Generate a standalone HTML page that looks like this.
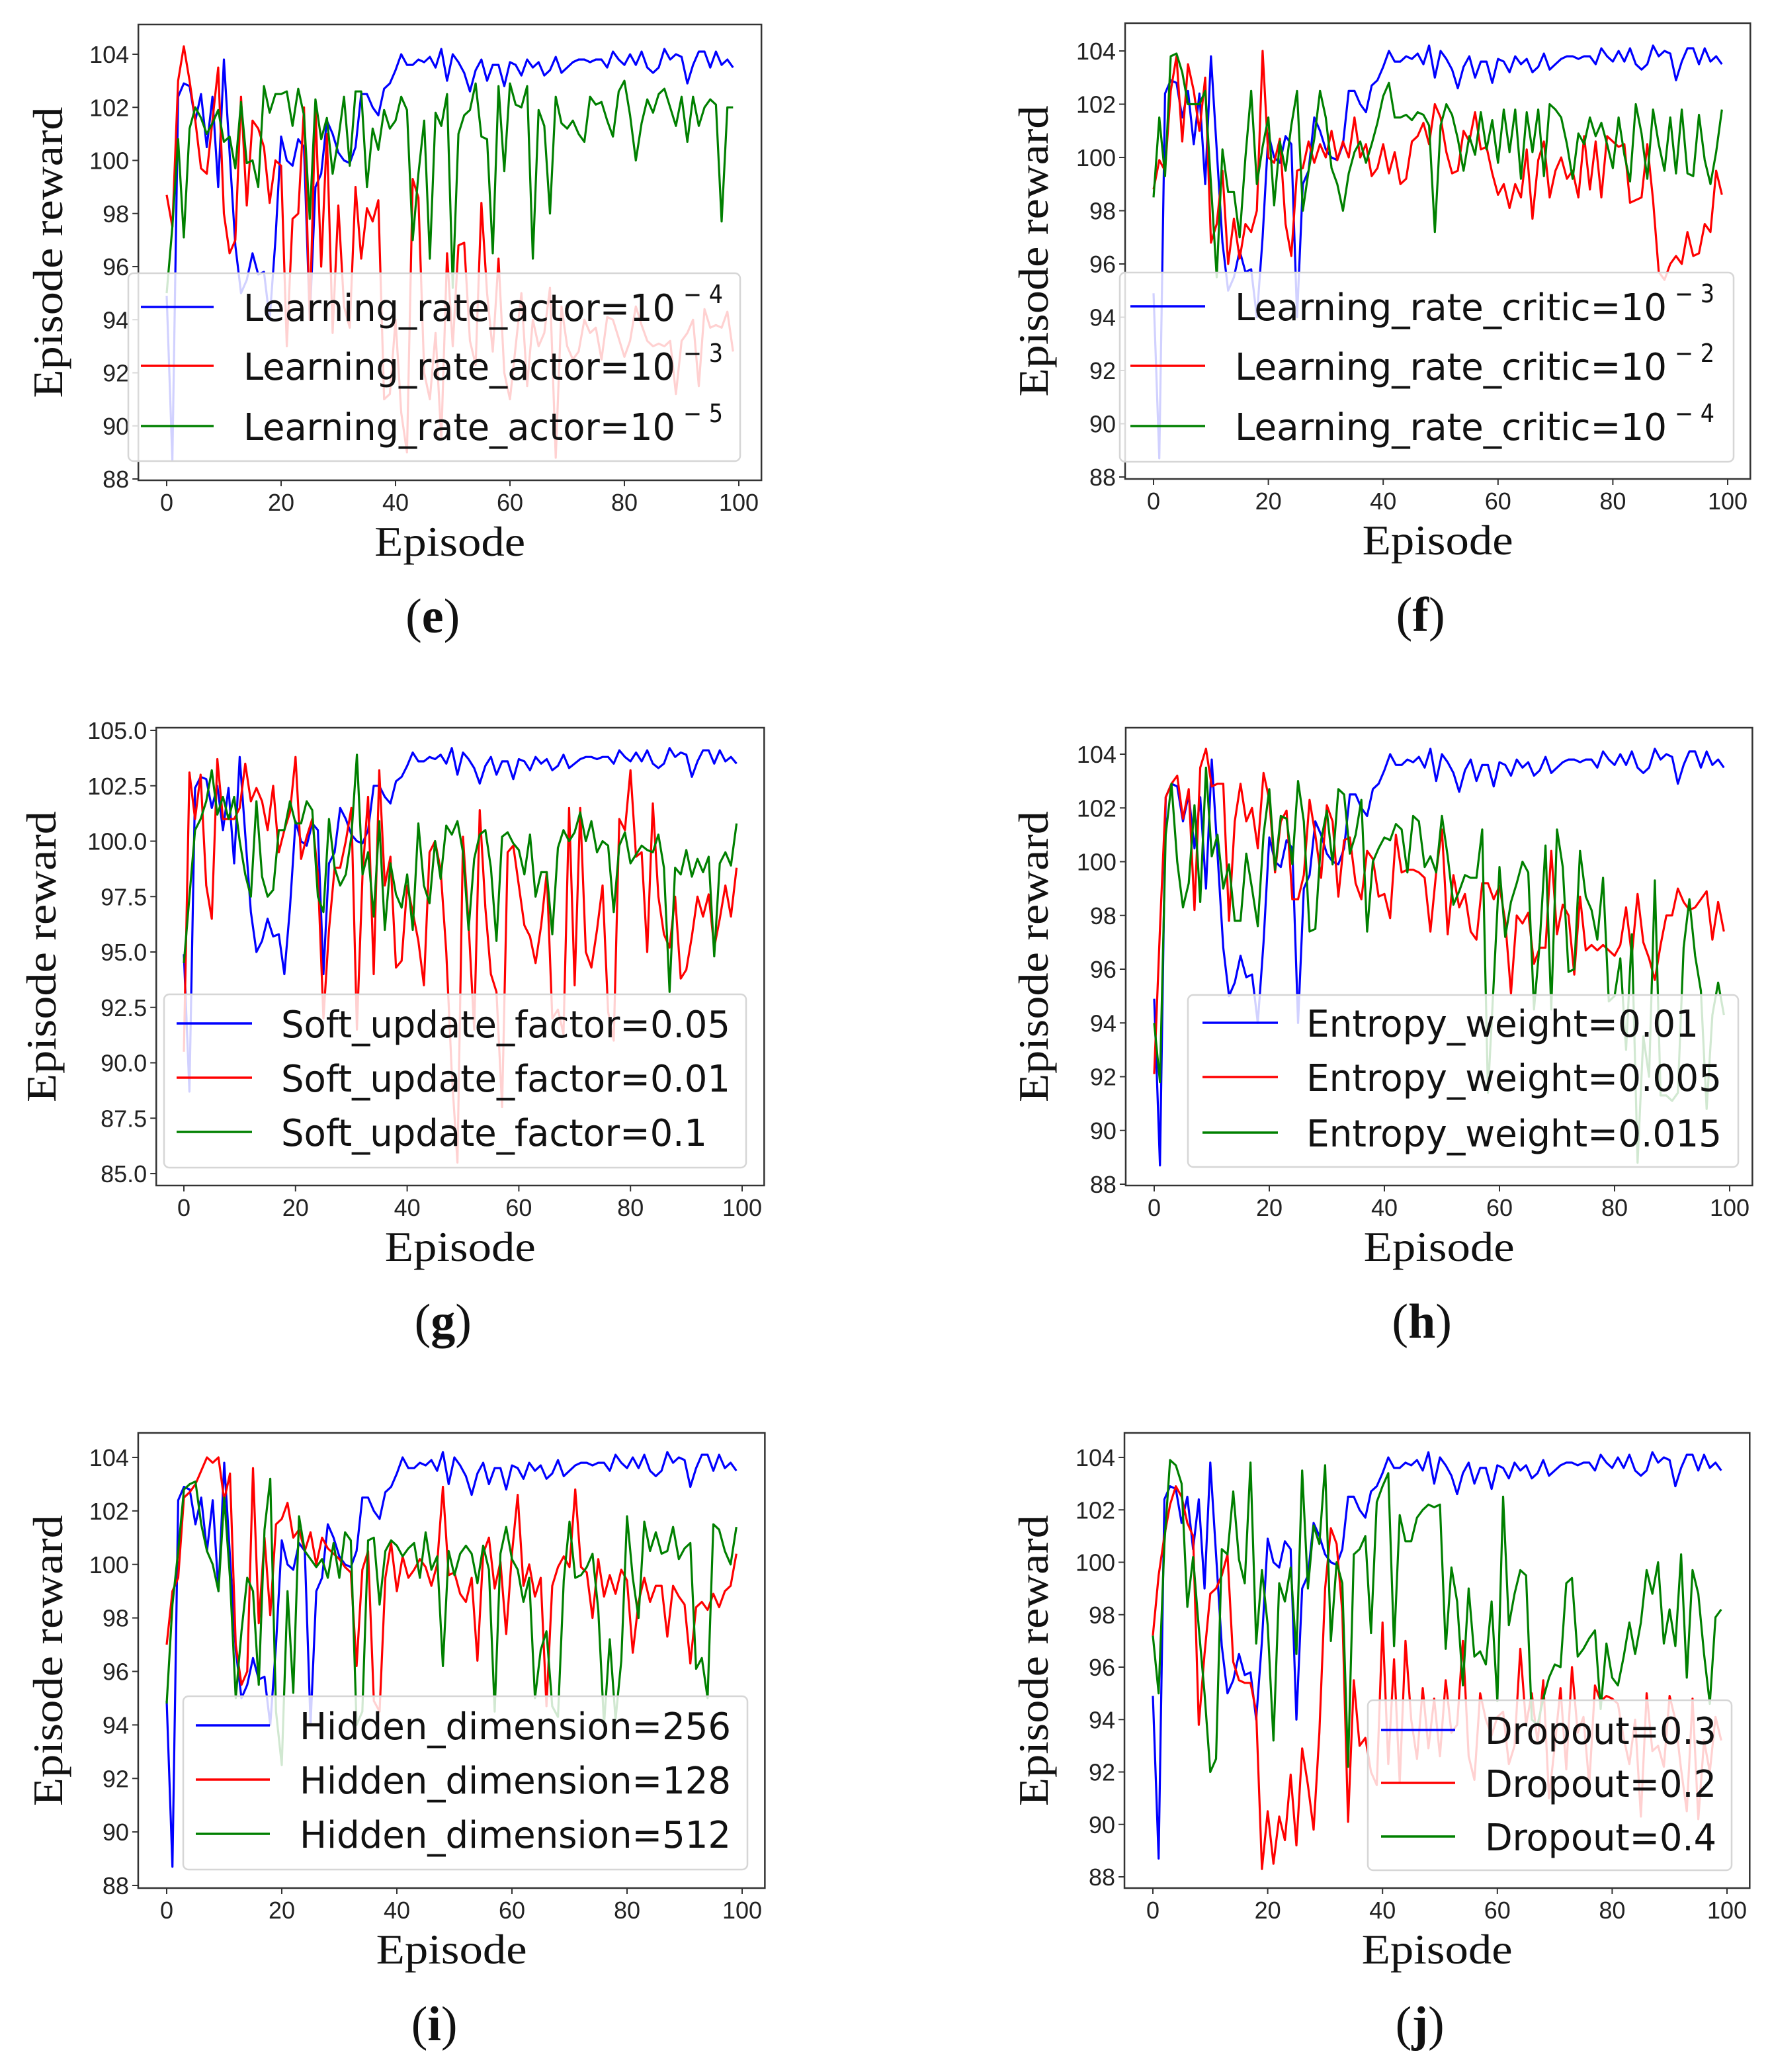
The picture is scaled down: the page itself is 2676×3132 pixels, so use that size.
<!DOCTYPE html>
<html><head><meta charset="utf-8">
<style>
html,body{margin:0;padding:0;background:#fff;}
svg{display:block;}
.tick{font-family:"Liberation Sans",sans-serif;font-size:36px;fill:#222;}
.ttl{font-family:"Liberation Serif",serif;font-size:64px;fill:#111;}
.leg{font-family:"DejaVu Sans Condensed","DejaVu Sans",sans-serif;font-size:56px;fill:#111;}
.sup{font-family:"DejaVu Sans",sans-serif;font-size:38px;fill:#111;}
.cap{font-family:"Liberation Serif",serif;font-size:74px;fill:#111;}
</style></head>
<body>
<svg id="fig" width="2676" height="3132" viewBox="0 0 2676 3132" xmlns="http://www.w3.org/2000/svg"></svg>
<script>
// ---- data (shared baseline series, blue) ----
const episodes = Array.from({length:100},(_,i)=>i);
const baseline = [94.9,88.7,102.4,102.9,102.8,101.5,102.5,100.5,102.4,99.0,103.8,100.3,96.8,95.0,95.5,96.5,95.7,95.8,94.0,97.0,100.9,100.0,99.8,100.8,100.5,94.0,99.0,99.5,101.5,101.0,100.3,100.0,99.9,100.5,102.5,102.5,102.0,101.7,102.7,102.9,103.4,104.0,103.6,103.6,103.8,103.7,103.9,103.5,104.2,103.0,104.0,103.7,103.3,102.6,103.4,103.8,103.0,103.6,103.6,102.8,103.7,103.6,103.2,103.8,103.5,103.7,103.2,103.4,103.9,103.3,103.5,103.7,103.8,103.8,103.7,103.8,103.8,103.5,104.1,103.8,103.6,104.0,103.6,104.1,103.5,103.3,103.5,104.2,103.8,104.0,103.9,102.9,103.6,104.1,104.1,103.5,104.1,103.6,103.8,103.5];
// panel e
const eRed = [98.7,97.5,103.0,104.3,103.0,101.5,99.7,99.5,101.5,103.5,98.0,96.5,97.0,102.4,98.3,101.5,101.2,100.5,98.4,100.0,99.8,93.0,97.8,98.0,102.0,94.0,102.0,96.0,101.0,93.5,98.3,94.5,93.7,99.0,96.3,98.2,97.7,98.5,91.0,91.2,94.0,90.5,89.0,99.3,98.6,92.0,91.0,93.5,89.5,96.5,93.0,96.8,96.9,93.2,92.3,98.4,95.0,92.8,96.3,92.0,91.0,93.0,95.0,91.5,94.0,93.0,93.5,95.2,88.8,94.5,93.0,92.5,92.8,94.0,93.5,93.7,92.5,94.1,94.0,93.3,92.6,93.2,94.5,93.8,93.2,93.0,93.1,93.0,93.2,91.2,93.2,93.5,94.0,91.5,94.4,93.7,93.8,93.7,94.3,92.8];
const eGreen = [95.0,97.5,100.8,97.1,101.2,102.0,101.6,101.0,101.4,101.9,100.7,100.9,99.7,102.2,99.9,100.0,99.0,102.8,101.8,102.5,102.5,102.6,101.3,102.7,101.7,97.8,102.3,100.8,101.6,99.5,100.8,102.4,99.8,102.6,102.6,99.0,101.2,100.4,101.9,101.2,101.5,102.4,101.9,97.0,99.5,101.5,96.3,101.8,101.3,102.5,95.2,101.0,101.7,101.9,102.9,100.9,100.8,96.5,102.8,99.6,102.9,102.1,102.0,102.8,96.3,101.9,101.3,98.0,102.4,101.4,101.2,101.5,101.0,100.7,102.4,102.1,102.2,101.5,100.9,102.6,103.0,101.7,100.0,101.4,102.3,101.8,102.5,102.7,102.0,101.3,102.4,100.7,102.4,101.3,102.0,102.3,102.1,97.7,102.0,102.0];
// panel f
const fRed = [98.8,99.9,99.5,102.5,103.8,100.6,103.5,102.5,101.0,103.0,96.8,97.5,99.5,96.0,97.7,96.2,97.5,97.2,98.0,104.0,100.0,99.8,100.7,97.5,96.3,99.5,99.6,100.6,99.8,100.5,100.0,101.0,99.9,100.6,100.0,101.5,100.0,100.5,99.3,99.6,100.5,99.4,100.2,99.0,99.2,100.6,100.8,101.3,100.5,102.0,101.5,100.2,99.4,99.5,101.0,100.6,101.7,100.3,100.4,99.4,98.6,99.0,98.1,99.0,98.5,100.3,97.7,99.9,100.6,98.5,99.5,100.0,99.2,99.5,98.5,100.8,98.8,100.6,98.5,100.8,100.6,100.4,100.5,98.3,98.4,98.5,100.5,98.4,95.7,95.4,96.0,96.3,96.0,97.2,96.3,96.4,97.5,97.2,99.5,98.6];
const fGreen = [98.5,101.5,99.3,103.8,103.9,103.2,102.0,102.0,102.0,102.5,99.0,95.5,100.3,98.7,98.7,97.0,100.0,102.5,99.0,100.4,101.5,98.2,100.6,99.5,101.2,102.5,98.0,99.5,100.7,102.5,101.5,99.6,99.0,98.0,99.4,100.2,100.6,99.8,100.5,101.3,102.3,102.8,101.5,101.5,101.6,101.4,101.7,101.6,101.2,97.2,101.2,102.0,101.6,100.7,99.5,100.8,100.1,101.7,100.3,101.4,99.8,101.8,100.2,101.8,99.2,101.7,100.2,101.8,99.3,102.0,101.8,101.5,100.5,99.2,100.9,100.5,101.5,100.8,101.3,100.5,99.6,101.5,100.1,99.1,102.0,100.9,99.2,101.8,100.5,99.5,101.5,99.4,101.8,99.4,99.3,101.6,99.9,99.0,100.2,101.8];
// panel g
const gRed = [90.5,103.1,101.0,103.0,98.0,96.5,103.7,101.0,101.0,101.0,101.5,103.5,101.8,102.4,101.8,100.5,102.5,99.5,100.5,101.3,103.8,99.2,100.2,101.0,98.5,92.0,96.0,98.8,98.8,100.0,101.5,91.5,98.5,102.0,94.0,103.2,98.0,99.3,94.3,94.6,98.0,96.8,95.5,93.5,99.5,100.0,98.7,95.0,89.5,85.5,100.2,96.3,91.5,101.4,97.0,94.0,93.2,88.0,99.5,99.8,98.0,96.2,95.7,94.5,96.2,98.6,92.0,92.4,91.3,101.5,93.5,101.5,95.0,94.3,96.0,98.0,92.3,91.0,101.0,100.5,103.2,99.3,99.5,95.0,101.7,97.5,95.8,95.2,97.5,93.8,94.2,95.7,97.5,96.6,97.6,95.2,96.5,98.0,96.6,98.8];
const gGreen = [94.5,97.5,100.5,101.0,101.8,103.2,101.2,102.0,101.0,102.0,100.0,98.5,97.5,101.8,98.4,97.5,97.8,100.5,100.5,101.8,100.8,100.8,101.8,101.4,97.5,96.8,101.0,98.8,98.0,98.5,100.2,103.9,98.5,99.5,96.6,100.9,96.0,99.0,97.6,97.0,98.5,96.0,100.8,98.0,97.2,100.0,98.3,100.7,100.3,100.9,99.5,96.0,99.2,100.3,100.5,98.8,95.5,100.2,100.4,99.9,99.6,98.5,100.3,97.5,98.6,98.6,95.8,99.7,100.5,100.0,100.4,101.3,100.0,100.9,99.5,100.0,99.8,96.8,99.8,100.4,99.0,99.4,99.8,99.6,99.5,100.3,98.8,93.2,98.8,98.5,99.6,98.4,99.2,98.6,99.3,94.8,99.0,99.5,98.9,100.8];
// panel h
const hRed = [92.1,97.5,102.4,102.9,103.2,101.6,102.7,98.2,103.5,104.2,102.8,102.9,102.9,97.8,101.5,102.9,101.5,102.0,100.5,103.3,102.3,99.6,101.5,101.9,98.6,98.6,99.5,102.3,101.0,99.4,102.1,101.5,98.7,100.8,100.9,99.2,98.6,100.4,100.1,98.7,98.8,97.9,101.0,99.6,99.7,99.7,99.6,99.4,97.4,99.6,101.2,97.3,99.5,98.3,98.8,97.4,97.1,99.2,99.2,98.6,99.1,97.8,95.1,98.0,97.7,98.1,96.2,96.8,96.8,100.4,97.3,98.4,98.0,95.8,98.7,96.7,96.9,96.7,96.9,96.7,96.5,96.9,98.3,96.5,98.8,97.0,96.4,95.6,96.9,98.0,98.0,99.0,98.5,98.2,98.3,98.6,98.9,97.1,98.5,97.4];
const hGreen = [94.0,91.8,101.0,102.9,100.0,98.3,99.2,102.1,98.5,103.5,100.2,101.0,99.0,99.9,97.8,97.8,100.3,99.0,97.6,101.0,102.7,99.7,101.7,101.6,99.9,103.0,101.5,97.4,97.5,100.8,101.9,99.9,102.7,102.5,100.3,101.0,102.3,97.4,100.0,100.5,100.9,100.8,101.4,101.2,99.6,101.7,101.5,99.8,100.2,99.6,101.7,100.2,98.4,98.9,99.5,99.4,99.4,101.2,91.4,95.5,99.8,97.2,98.5,99.2,100.0,99.6,94.5,97.0,100.6,94.5,101.2,99.8,95.9,96.0,100.4,98.7,98.2,97.1,99.4,94.8,95.0,96.4,93.0,97.3,88.8,93.5,92.0,99.3,91.3,91.3,91.1,91.4,96.8,98.6,96.5,95.2,90.8,94.3,95.5,94.3];
// panel i
const iRed = [97.0,99.0,99.5,102.5,102.7,103.0,103.5,104.0,103.8,104.0,102.4,103.4,97.0,95.5,96.0,103.6,97.8,101.0,98.1,101.5,101.7,102.3,101.0,101.3,100.5,101.2,100.0,101.0,100.6,100.4,100.2,99.9,99.7,96.2,99.8,100.5,94.9,94.5,99.5,100.8,99.0,100.3,99.5,99.8,100.2,99.9,99.2,100.0,102.9,99.6,99.7,98.9,98.6,99.5,96.4,100.4,101.0,99.1,100.1,97.4,100.4,102.6,99.2,100.0,98.8,99.5,94.7,99.2,99.9,100.3,99.9,102.8,99.9,99.7,98.0,100.2,98.8,99.6,98.9,99.8,99.4,96.7,98.6,99.5,98.6,99.2,99.2,97.3,99.2,98.8,98.5,96.3,98.4,98.6,98.3,98.9,98.4,99.0,99.2,100.4];
const iGreen = [94.8,98.5,100.5,102.8,103.0,103.1,101.5,100.5,100.0,99.0,102.5,99.5,95.0,97.5,99.5,99.0,95.5,101.3,103.2,94.5,92.5,99.0,95.2,101.8,100.5,100.2,99.9,100.2,99.5,100.8,99.5,101.2,100.9,94.0,94.5,100.9,101.0,98.5,100.5,100.9,100.7,100.3,100.6,100.8,99.5,101.2,99.8,100.3,96.2,100.5,99.6,100.4,100.7,100.4,99.3,100.7,99.8,94.5,100.4,101.4,100.2,99.8,98.6,99.5,95.0,96.8,97.5,94.7,94.3,99.4,101.6,99.5,99.6,99.9,100.4,98.3,94.0,97.2,94.2,96.4,101.8,99.5,98.0,101.6,100.5,101.2,100.4,100.5,101.4,100.2,100.6,100.8,96.1,96.5,95.0,101.5,101.3,100.5,100.0,101.4];
// panel j
const jRed = [97.2,99.5,101.0,102.2,102.9,102.5,101.5,101.0,93.8,96.5,98.8,99.0,99.5,100.3,96.2,95.5,95.4,95.4,94.3,88.3,90.5,88.5,90.3,89.4,91.9,89.2,92.9,91.5,89.8,93.5,99.0,101.3,100.7,98.1,90.1,95.5,93.0,93.3,92.0,91.5,97.7,92.3,96.3,91.6,97.0,94.0,92.5,95.2,92.9,94.8,92.6,95.5,93.5,93.8,97.0,92.6,91.7,95.0,94.0,93.4,94.1,94.3,92.3,93.0,96.7,93.8,95.0,93.1,95.5,91.0,93.0,95.2,92.1,96.0,93.5,94.1,91.5,95.3,94.7,94.9,94.8,94.6,93.3,92.3,94.0,90.3,95.0,92.8,93.0,92.2,94.9,94.0,92.1,90.5,94.8,90.2,93.2,92.0,94.1,93.2];
const jGreen = [97.2,95.0,100.7,103.9,103.7,103.0,98.3,100.2,97.5,95.0,92.0,92.5,100.5,100.3,102.7,100.1,99.2,103.8,96.9,99.7,97.6,93.2,99.2,98.5,99.8,96.5,103.5,99.0,101.4,100.7,103.7,97.0,100.0,99.2,92.2,100.3,100.5,101.0,97.3,102.3,102.9,103.4,96.8,101.8,100.8,100.8,101.7,102.0,102.2,102.1,102.2,96.7,99.8,98.5,95.3,99.0,96.4,96.6,96.1,98.5,94.7,102.5,97.6,98.8,99.7,99.5,94.0,93.8,94.8,95.6,96.1,96.0,99.2,99.4,96.4,96.7,97.1,97.4,94.4,96.9,95.6,95.3,96.4,97.7,96.5,97.7,99.7,98.8,100.0,96.9,98.2,96.8,100.3,95.6,99.7,98.8,96.5,94.6,97.9,98.2];
const xTickLabels = ["0","20","40","60","80","100"];
const xTickValues = [0,20,40,60,80,100];
const yTicksStd = [88,90,92,94,96,98,100,102,104];
const yTicksG = [85,87.5,90,92.5,95,97.5,100,102.5,105];

const NS="http://www.w3.org/2000/svg";
const svg=document.getElementById('fig');
function mk(tag,attrs,parent){const e=document.createElementNS(NS,tag);for(const k in attrs)e.setAttribute(k,attrs[k]);(parent||svg).appendChild(e);return e;}

const panels=[
 {id:'e',x0:252,x100:1117,v0:88,p0:724,v1:104,p1:82,t:37,b:726,ticks:yTicksStd,dec:0,ylx:72,
  series:[baseline,eRed,eGreen],
  leg:{l:194,r:1119,t:413,b:697,ys:[464,553,644],l1:213,l2:323,tx:368,
   items:[["Learning_rate_actor=10","\u2212 4",653],["Learning_rate_actor=10","\u2212 3",653],["Learning_rate_actor=10","\u2212 5",653]]}},
 {id:'f',x0:1744,x100:2612,v0:88,p0:721,v1:104,p1:77,t:35,b:724,ticks:yTicksStd,dec:0,ylx:1562,
  series:[baseline,fRed,fGreen],
  leg:{l:1693,r:2621,t:412,b:698,ys:[463,553,644],l1:1709,l2:1822,tx:1867,
   items:[["Learning_rate_critic=10","\u2212 3",653],["Learning_rate_critic=10","\u2212 2",653],["Learning_rate_critic=10","\u2212 4",653]]}},
 {id:'g',x0:278,x100:1122,v0:85,p0:1774,v1:105,p1:1104,t:1100,b:1792,ticks:yTicksG,dec:1,ylx:62,
  series:[baseline,gRed,gGreen],
  leg:{l:248,r:1128,t:1503,b:1765,ys:[1547,1629,1711],l1:267,l2:381,tx:425,
   items:[["Soft_update_factor=0.05","",679],["Soft_update_factor=0.01","",679],["Soft_update_factor=0.1","",644]]}},
 {id:'h',x0:1745,x100:2615,v0:88,p0:1790,v1:104,p1:1140,t:1100,b:1792,ticks:yTicksStd,dec:0,ylx:1562,
  series:[baseline,hRed,hGreen],
  leg:{l:1796,r:2628,t:1504,b:1764,ys:[1546,1628,1712],l1:1818,l2:1932,tx:1975,
   items:[["Entropy_weight=0.01","",593],["Entropy_weight=0.005","",628],["Entropy_weight=0.015","",628]]}},
 {id:'i',x0:252,x100:1122,v0:88,p0:2850,v1:104,p1:2203,t:2166,b:2854,ticks:yTicksStd,dec:0,ylx:72,
  series:[baseline,iRed,iGreen],
  leg:{l:277,r:1130,t:2564,b:2826,ys:[2608,2690,2772],l1:296,l2:408,tx:453,
   items:[["Hidden_dimension=256","",652],["Hidden_dimension=128","",652],["Hidden_dimension=512","",652]]}},
 {id:'j',x0:1743,x100:2611,v0:88,p0:2837,v1:104,p1:2203,t:2166,b:2854,ticks:yTicksStd,dec:0,ylx:1562,
  series:[baseline,jRed,jGreen],
  leg:{l:2068,r:2618,t:2570,b:2827,ys:[2615,2695,2776],l1:2088,l2:2200,tx:2245,
   items:[["Dropout=0.3","",350],["Dropout=0.2","",350],["Dropout=0.4","",350]]}}
];
const colors=['#0000ff','#ff0000','#008000'];

panels.forEach(P=>{
  const X=v=>P.x0+(P.x100-P.x0)*v/100;
  const Y=v=>P.p0+(P.p1-P.p0)*(v-P.v0)/(P.v1-P.v0);
  const L=X(-4.95), R=X(103.95);
  const g=mk('g',{});
  
  
  const cp=mk('clipPath',{id:'clip-'+P.id},g);
  mk('rect',{x:L,y:P.t,width:R-L,height:P.b-P.t},cp);
  const sg=mk('g',{'clip-path':'url(#clip-'+P.id+')'},g);
  P.series.forEach((arr,k)=>{
    const d=arr.map((v,i)=>(i?'L':'M')+X(episodes[i]).toFixed(1)+' '+Y(v).toFixed(1)).join(' ');
    const p=mk('path',{d:d,fill:'none',stroke:colors[k],'stroke-width':3.2,'stroke-linejoin':'round'},sg);
    
    
  });
  const fr=mk('rect',{x:L,y:P.t,width:R-L,height:P.b-P.t,fill:'none',stroke:'#333','stroke-width':2.5},g);
  
  
  P.ticks.forEach(v=>{
    const y=Y(v);
    mk('line',{x1:L-9,x2:L,y1:y,y2:y,stroke:'#333','stroke-width':2},g);
    const t=mk('text',{x:L-14,y:y+13,'text-anchor':'end',class:'tick'},g);
    t.textContent=P.dec?v.toFixed(1):String(v);
    
    
  });
  xTickValues.forEach((v,i)=>{
    const x=X(v);
    mk('line',{x1:x,x2:x,y1:P.b,y2:P.b+9,stroke:'#333','stroke-width':2},g);
    const t=mk('text',{x:x,y:P.b+46,'text-anchor':'middle',class:'tick'},g);
    t.textContent=xTickLabels[i];
    
    
  });
  const cx=(L+R)/2, cy=(P.t+P.b)/2;
  const yt=mk('text',{x:P.ylx,y:cy,'text-anchor':'middle',class:'ttl',transform:'rotate(-90 '+P.ylx+' '+cy+')',dy:'22',textLength:440,lengthAdjust:'spacingAndGlyphs'},g);
  yt.textContent='Episode reward';
  
  
  const xt=mk('text',{x:cx,y:P.b+114,'text-anchor':'middle',class:'ttl',textLength:228,lengthAdjust:'spacingAndGlyphs'},g);
  xt.textContent='Episode';
  
  
  const cap=mk('text',{x:cx-26,y:P.b+230,'text-anchor':'middle',class:'cap'},g);
  cap.innerHTML='(<tspan font-weight="bold">'+P.id+'</tspan>)';
  
  
  const lg=P.leg;
  const lgG=mk('g',{},g);
  
  
  mk('rect',{x:lg.l,y:lg.t,width:lg.r-lg.l,height:lg.b-lg.t,rx:8,fill:'#fff','fill-opacity':0.82,stroke:'#d6d6d6','stroke-width':2.5},lgG);
  lg.items.forEach((it,k)=>{
    const y=lg.ys[k];
    const ln=mk('line',{x1:lg.l1,x2:lg.l2,y1:y,y2:y,stroke:colors[k],'stroke-width':3.5},lgG);
    
    
    const t=mk('text',{x:lg.tx,y:y+21,class:'leg',textLength:it[2],lengthAdjust:'spacingAndGlyphs'},lgG);
    t.textContent=it[0];
    
    
    if(it[1]){
      const s=mk('text',{x:lg.tx+it[2]+12,y:y-6,class:'sup',textLength:60,lengthAdjust:'spacingAndGlyphs'},lgG);
      s.textContent=it[1];
      
      
    }
  });
});
</script>
</body></html>
